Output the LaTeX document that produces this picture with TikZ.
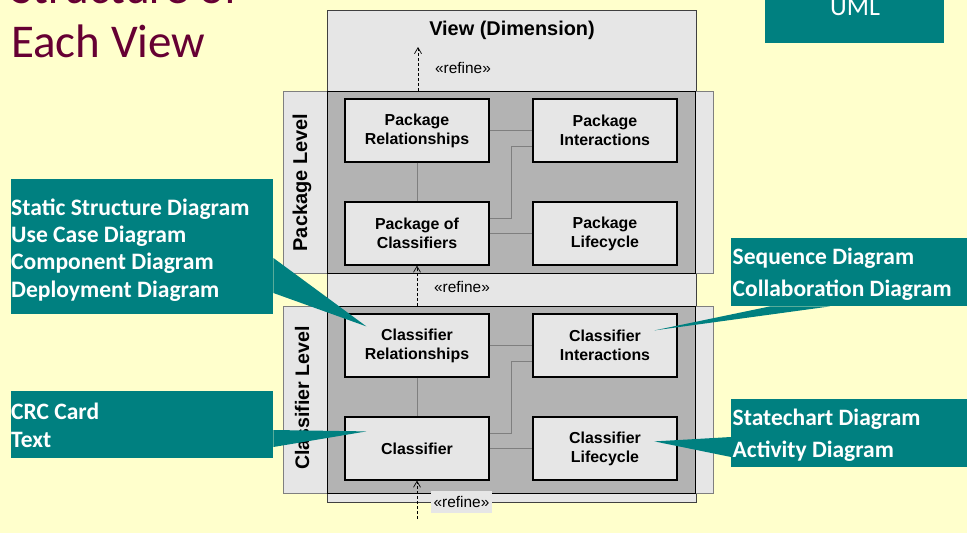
\documentclass[tikz,border=0pt]{standalone}
\usepackage{fontspec}
\setmainfont{Liberation Sans}
\newfontfamily\calfont{Carlito}
\usetikzlibrary{arrows.meta,calc}

\definecolor{bgyellow}{HTML}{FFFFCC}
\definecolor{panel}{HTML}{E6E6E6}
\definecolor{shade}{HTML}{B3B3B3}
\definecolor{calloutteal}{HTML}{008080}
\definecolor{titlered}{HTML}{660033}
\definecolor{linkgray}{HTML}{7F7F7F}

\tikzset{
  frame/.style={draw=linkgray, line width=0.8pt, fill=panel, anchor=north west, inner sep=0pt},
  core/.style={draw=black, line width=1.2pt, fill=shade, anchor=north west, inner sep=0pt},
  component/.style={draw=black, line width=1.2pt, fill=panel, minimum width=144pt,
    minimum height=63pt, inner sep=0pt, align=center,
    font=\bfseries\fontsize{15.9}{19}\selectfont},
  link/.style={draw=linkgray, line width=1pt},
  refine/.style={line width=0.7pt, dash pattern=on 3pt off 2pt,
    -{Straight Barb[length=6pt,width=7pt,line width=0.7pt]}},
  refinelabel/.style={font=\fontsize{15.4}{17}\selectfont, inner sep=1.5pt},
  levellabel/.style={rotate=90, font=\bfseries\fontsize{20}{22}\selectfont},
  calloutbox/.style={fill=calloutteal, anchor=north west, inner sep=0pt},
  callouttext/.style={text=white, anchor=north west, inner sep=0pt, align=left,
    font=\calfont\bfseries\fontsize{23.6}{27.3}\selectfont},
  wedge/.style={fill=calloutteal}
}

\begin{document}
\begin{tikzpicture}[x=1pt,y=-1pt]
\useasboundingbox (0,0) rectangle (967,533);
\fill[bgyellow] (0,0) rectangle (967,533);

% slide title (base anchor sits on the last line)
\node[anchor=base west, inner sep=0pt, text=titlered, align=left,
  font=\calfont\fontsize{47}{53.5}\selectfont] (title) at (11,57)
  {Structure of\\Each View};

% UML tab
\node[calloutbox, minimum width=179pt, minimum height=43pt] (umltab) at (765,0) {};
\node[anchor=base, inner sep=0pt, text=white, font=\calfont\fontsize{26}{30}\selectfont]
  (umltext) at (855,15) {UML};

% view and its two levels
\node[frame, draw=black!75, minimum width=369pt, minimum height=492pt] (view) at (327,10) {};
\node[font=\bfseries\fontsize{19.9}{22}\selectfont] (viewlabel) at (512,30) {View (Dimension)};

\node[frame, minimum width=430pt, minimum height=182pt] (pkgframe) at (283,91) {};
\node[core, minimum width=368pt, minimum height=182pt] (pkgcore) at (327,91) {};
\node[levellabel] (pkglabel) at (302,182.5) {Package Level};

\node[frame, minimum width=430pt, minimum height=187pt] (clsframe) at (283,306) {};
\node[core, minimum width=368pt, minimum height=187pt] (clscore) at (327,306) {};
\node[levellabel, font=\bfseries\fontsize{19.6}{22}\selectfont] (clslabel) at (302,398) {Classifier Level};

% package level components
\node[component] (PR)  at (417,130.5) {Package\\Relationships};
\node[component] (PI)  at (605,130.5) {Package\\Interactions};
\node[component] (POC) at (417,233.5) {Package of\\Classifiers};
\node[component] (PL)  at (605,233.5) {Package\\Lifecycle};

\draw[link] (PR) -- (POC);
\draw[link] (PR.east) -- (PI.west);
\draw[link] ([yshift=15.5pt]POC.east) -- ++(22,0) |- ([yshift=-15.5pt]PI.west);
\draw[link] (POC.east) -- (PL.west);

% classifier level components
\node[component] (CR) at (417,345.5) {Classifier\\Relationships};
\node[component] (CI) at (605,345.5) {Classifier\\Interactions};
\node[component] (C)  at (417,448.5) {Classifier};
\node[component] (CL) at (605,448.5) {Classifier\\Lifecycle};

\draw[link] (CR) -- (C);
\draw[link] (CR.east) -- (CI.west);
\draw[link] ([yshift=15.5pt]C.east) -- ++(22,0) |- ([yshift=-16pt]CI.west);
\draw[link] (C.east) -- (CL.west);

% refine dependencies
\coordinate (toptip) at (418,47);
\coordinate (bottomtail) at (417,519);
\draw[refine] (pkgcore.north -| toptip) -- (toptip);
\draw[refine] (clscore.north -| POC) -- (POC.south);
\draw[refine] (bottomtail) -- (C.south);
\node[refinelabel] (ref1) at (463,68) {«refine»};
\node[refinelabel] (ref2) at (462,287) {«refine»};
\node[refinelabel, fill=panel, minimum width=61pt, minimum height=22pt] (ref3) at (461.5,502) {«refine»};

% callouts
\node[calloutbox, minimum width=262pt, minimum height=135pt] (c1) at (11,179) {};
\node[callouttext] (c1text) at (11,198.5)
  {Static Structure Diagram\\Use Case Diagram\\Component Diagram\\Deployment Diagram};
\fill[wedge] ($(c1.north east)+(0,79)$) -- ($(CR.north west)+(22,13)$) -- ($(c1.north east)+(0,114)$) -- cycle;

\node[calloutbox, minimum width=236pt, minimum height=68pt] (c2) at (731,238) {};
\node[callouttext, font=\calfont\bfseries\fontsize{23.5}{32}\selectfont] (c2text) at (732.5,247.5)
  {Sequence Diagram\\Collaboration Diagram};
\fill[wedge] ($(c2.south west)+(39,0)$) -- ($(CI.north west)+(122,17)$) -- ($(c2.south west)+(99,0)$) -- cycle;

\node[calloutbox, minimum width=262pt, minimum height=67pt] (c3) at (11,391) {};
\node[callouttext, font=\calfont\bfseries\fontsize{23.5}{28}\selectfont] (c3text) at (11,402.5)
  {CRC Card\\Text};
\fill[wedge] ($(c3.north east)+(0,39)$) -- ($(C.north west)+(22,15)$) -- ($(c3.north east)+(0,56)$) -- cycle;

\node[calloutbox, minimum width=236pt, minimum height=68pt] (c4) at (731,399) {};
\node[callouttext, font=\calfont\bfseries\fontsize{23.5}{32}\selectfont] (c4text) at (732.5,409)
  {Statechart Diagram\\Activity Diagram};
\fill[wedge] ($(c4.north west)+(0,38)$) -- ($(CL.north west)+(122,25)$) -- ($(c4.north west)+(0,58)$) -- cycle;
\end{tikzpicture}
\end{document}
